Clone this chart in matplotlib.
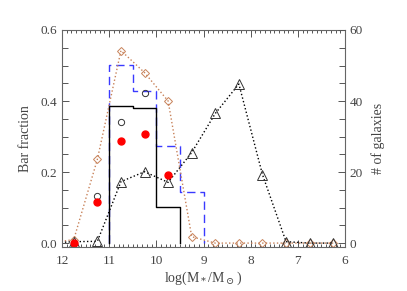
import matplotlib
matplotlib.use("Agg")
import matplotlib.pyplot as plt
from matplotlib.ticker import MultipleLocator

# ---- data ----
bin_edges = [11.0, 10.5, 10.0, 9.5, 9.0]
hist_black = [0.387, 0.379, 0.102, 0.0]
hist_blue = [0.501, 0.428, 0.274, 0.145]

diam_x = [12.25, 11.75, 11.25, 10.75, 10.25, 9.75, 9.25, 8.75, 8.25, 7.75, 7.25, 6.75, 6.25]
diam_y = [0.0, 0.010, 0.236, 0.542, 0.480, 0.400, 0.018, 0.0, 0.0, 0.0, 0.0, 0.0, 0.0]

tri_x = [12.25, 11.75, 11.25, 10.75, 10.25, 9.75, 9.25, 8.75, 8.25, 7.75, 7.25, 6.75, 6.25]
tri_y = [0.0, 0.004, 0.005, 0.173, 0.201, 0.171, 0.255, 0.365, 0.448, 0.193, 0.004, 0.0, 0.0]

red_x = [11.75, 11.25, 10.75, 10.25, 9.75]
red_y = [0.0, 0.115, 0.288, 0.306, 0.193]

circ_x = [11.25, 10.75, 10.25]
circ_y = [0.132, 0.342, 0.422]

xticks = [12, 11, 10, 9, 8, 7, 6]
yticks_left = [0.0, 0.2, 0.4, 0.6]
yticks_right = [0, 20, 40, 60]

tc = '#444444'
orange = '#c8825a'
blue = '#3a3aff'

plt.rcParams['font.family'] = ['Liberation Serif', 'DejaVu Serif']
plt.rcParams['mathtext.fontset'] = 'dejavuserif'
fig = plt.figure(figsize=(4.07, 2.91), dpi=100)
ax = fig.add_axes([62/407, 1-247/291, (345-62)/407, (247-30)/291])

def step(edges, vals):
    xs, ys = [edges[0]], [0.0]
    for i, v in enumerate(vals):
        xs += [edges[i], edges[i+1]]
        ys += [v, v]
    xs.append(edges[-1]); ys.append(0.0)
    return xs, ys

bx, by = step(bin_edges, hist_blue)
ax.plot(bx, by, color=blue, ls=(0, (6, 3.5)), lw=1.0)
kx, ky = step(bin_edges[:4], hist_black[:3])
ax.plot(kx, ky, color='black', lw=1.0)

ax.plot(diam_x, diam_y, ls=':', color=orange, lw=1.0, marker='D', ms=4.5,
        mfc='none', mec=orange, mew=0.7)
ax.plot(tri_x, tri_y, ls=':', color='black', lw=1.0, marker='^', ms=7,
        mfc='none', mec='#333333', mew=0.7)
ax.plot(circ_x, circ_y, ls='none', marker='o', ms=4.5, mfc='none', mec='#333333', mew=0.7)
ax.plot(red_x, red_y, ls='none', marker='o', ms=5, color='red', mec='red')

ax.set_xlim(12, 6)
ax.set_ylim(-0.011, 0.6)
ax.set_xticks(xticks)
ax.set_xticklabels([str(t) for t in xticks])
ax.set_yticks(yticks_left)
ax.set_yticklabels(['%.1f' % t for t in yticks_left])
ax.xaxis.set_minor_locator(MultipleLocator(0.1))
ax.yaxis.set_minor_locator(MultipleLocator(0.05))
ax.tick_params(which='both', direction='in', top=True, right=False, colors='#555555',
               labelcolor=tc, labelsize=9.5, width=0.7)
ax.tick_params(which='major', length=5)
ax.tick_params(which='minor', length=2.5)
ax.tick_params(axis='y', which='minor', length=4)
ax.tick_params(axis='x', pad=6)
for s in ax.spines.values():
    s.set_color('#666666'); s.set_linewidth(0.8)

ax.set_xlabel(r'log(M$_*$/M$_\odot$)', color=tc, fontsize=10, labelpad=2)
ax.set_ylabel('Bar fraction', color=tc, fontsize=10, labelpad=6)

ax2 = ax.twinx()
ax2.set_ylim(-1.1, 60)
ax2.set_yticks(yticks_right)
ax2.set_yticklabels([str(t) for t in yticks_right])
ax2.yaxis.set_minor_locator(MultipleLocator(5))
ax2.tick_params(which='both', direction='in', colors='#555555', labelcolor=tc, labelsize=9.5, width=0.7)
ax2.tick_params(which='major', length=5)
ax2.tick_params(which='minor', length=4)
for s in ax2.spines.values():
    s.set_visible(False)
ax2.set_ylabel('# of galaxies', color=tc, fontsize=10, rotation=90, labelpad=6)

fig.savefig('out.png', dpi=100)
